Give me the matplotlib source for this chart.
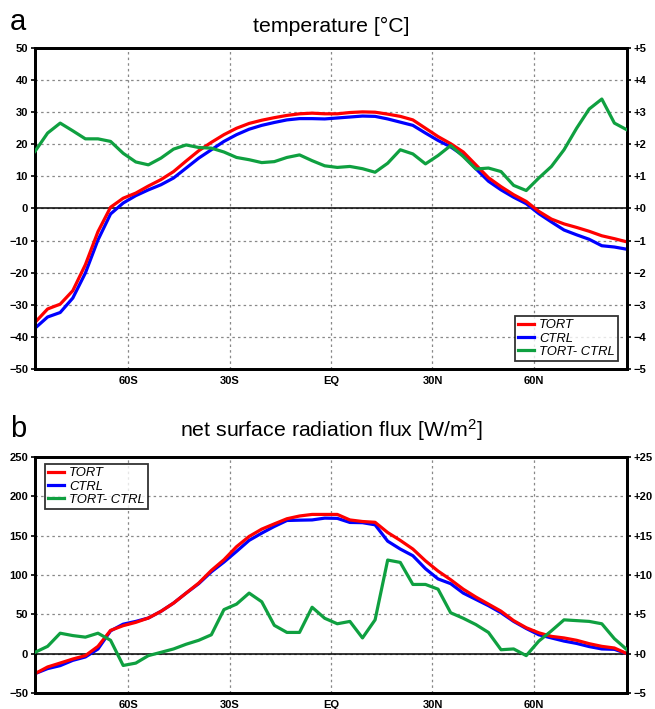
import numpy as np
import matplotlib
matplotlib.use("Agg")
import matplotlib.pyplot as plt
from matplotlib.lines import Line2D

plt.rcParams['font.family'] = ['Liberation Sans', 'DejaVu Sans']
plt.rcParams['mathtext.default'] = 'regular'

# latitude grid (48 points, south to north)
lat = np.linspace(-87.5, 87.5, 48)

# ---- panel a: temperature [°C] ----
temp_tort = [-35.5, -31.3, -29.8, -25.6, -17.5, -7.2, 0.4, 3.2, 4.8, 7.0, 9.0, 11.5,
             14.8, 18.0, 20.6, 23.0, 25.0, 26.5, 27.5, 28.3, 29.0, 29.5, 29.7, 29.5,
             29.5, 29.9, 30.1, 30.0, 29.4, 28.7, 27.6, 25.0, 22.4, 20.2, 17.6, 13.6,
             9.6, 6.8, 4.3, 2.2, -0.9, -3.3, -4.8, -5.9, -7.1, -8.5, -9.4, -10.4]
temp_ctrl = [-37.3, -33.8, -32.4, -27.9, -20.1, -9.8, -1.7, 1.7, 4.0, 5.8, 7.4, 9.5,
             12.6, 15.7, 18.3, 20.9, 23.0, 24.7, 25.9, 26.8, 27.6, 28.0, 28.0, 27.9,
             28.2, 28.5, 28.8, 28.7, 27.9, 26.9, 25.9, 23.5, 21.2, 19.2, 16.5, 12.4,
             8.5, 5.8, 3.5, 1.5, -1.6, -4.2, -6.7, -8.2, -9.6, -11.6, -12.0, -12.7]
temp_diff = [1.78, 2.35, 2.66, 2.42, 2.17, 2.17, 2.09, 1.72, 1.45, 1.36, 1.57, 1.85,
             1.98, 1.90, 1.88, 1.76, 1.59, 1.52, 1.43, 1.46, 1.59, 1.67, 1.49, 1.33,
             1.28, 1.31, 1.24, 1.13, 1.41, 1.83, 1.70, 1.39, 1.65, 1.96, 1.62, 1.23,
             1.26, 1.15, 0.72, 0.56, 0.95, 1.31, 1.83, 2.50, 3.10, 3.41, 2.66, 2.45]

# ---- panel b: net surface radiation flux [W/m2] ----
rad_tort = [-25.4, -16.9, -11.9, -6.8, -2.5, 9.3, 29.6, 35.6, 39.8, 45.3, 53.8, 64.3,
            77.0, 89.8, 105.8, 119.4, 136.0, 149.0, 158.3, 165.0, 171.5, 175.0, 177.0, 177.0,
            177.0, 170.0, 168.0, 167.0, 154.0, 144.0, 133.0, 118.0, 105.0, 94.0, 82.0, 72.0,
            63.0, 54.0, 42.0, 33.0, 26.5, 22.0, 20.0, 17.0, 12.7, 9.3, 7.2, 0.0]
rad_ctrl = [-25.4, -19.0, -15.2, -8.5, -4.2, 5.9, 29.0, 37.5, 41.0, 45.3, 53.8, 64.3,
            77.0, 89.0, 104.0, 116.4, 130.0, 144.0, 153.2, 161.7, 169.3, 169.7, 170.0, 172.3,
            172.0, 166.8, 166.5, 163.8, 143.0, 133.0, 124.5, 108.0, 95.0, 89.0, 77.0, 69.0,
            61.0, 52.0, 41.0, 32.0, 24.0, 20.0, 16.0, 13.0, 9.0, 6.0, 5.5, 0.0]
rad_diff = [0.17, 0.93, 2.6, 2.3, 2.1, 2.6, 1.7, -1.5, -1.2, -0.25, 0.17, 0.6,
            1.2, 1.7, 2.4, 5.6, 6.3, 7.7, 6.6, 3.6, 2.7, 2.7, 5.9, 4.5,
            3.8, 4.1, 2.0, 4.3, 11.9, 11.6, 8.8, 8.8, 8.2, 5.2, 4.5, 3.7,
            2.7, 0.5, 0.6, -0.25, 1.6, 2.9, 4.3, 4.2, 4.1, 3.8, 1.9, 0.5]

xticks = [-60, -30, 0, 30, 60]
xticklabels = ['60S', '30S', 'EQ', '30N', '60N']
series_labels = ['TORT', 'CTRL', 'TORT- CTRL']

RED = '#ff0000'
BLUE = '#0000ff'
GREEN = '#0fa040'

W, H = 655, 709
fig = plt.figure(figsize=(W / 100, H / 100), dpi=100)


def fmt_signed(v):
    v = int(round(v))
    if v > 0:
        return '+%d' % v
    if v == 0:
        return '+0'
    return '\u2212%d' % abs(v)


def make_panel(rect, left, right, diff, ylim, yticks, ylim2, yticks2, legend_kw):
    ax = fig.add_axes(rect)
    ax.set_xlim(lat[0], lat[-1])
    ax.set_ylim(*ylim)
    ax.set_xticks(xticks)
    ax.set_xticklabels(xticklabels)
    ax.set_yticks(yticks)
    ax.set_yticklabels([('\u2212%d' % -t) if t < 0 else '%d' % t for t in yticks])
    ax.grid(True, color='#888888', linestyle=(0, (2, 2.5)), linewidth=0.9)
    ax.axhline(0, color='black', linewidth=1.1, zorder=2)
    ax.plot(lat, left, color=RED, lw=2.3, zorder=4, solid_joinstyle='round')
    ax.plot(lat, right, color=BLUE, lw=2.3, zorder=3, solid_joinstyle='round')
    ax.tick_params(axis='x', length=0, pad=5, labelsize=8)
    ax.tick_params(axis='y', length=3, width=1.2, pad=2, labelsize=8, direction='out')
    for lbl in ax.get_xticklabels() + ax.get_yticklabels():
        lbl.set_fontweight('bold')
    for s in ax.spines.values():
        s.set_linewidth(2)

    ax2 = ax.twinx()
    ax2.set_ylim(*ylim2)
    ax2.set_yticks(yticks2)
    ax2.set_yticklabels([fmt_signed(t) for t in yticks2])
    ax2.plot(lat, diff, color=GREEN, lw=2.3, zorder=5, solid_joinstyle='round')
    ax2.tick_params(axis='y', length=3, width=1.2, pad=2, labelsize=8, direction='out')
    for lbl in ax2.get_yticklabels():
        lbl.set_fontweight('bold')
    for s in ax2.spines.values():
        s.set_linewidth(2)

    handles = [Line2D([], [], color=c, lw=2.3) for c in (RED, BLUE, GREEN)]
    leg = ax2.legend(handles, series_labels, prop={'style': 'italic', 'size': 9.4},
                     frameon=True, fancybox=False, edgecolor='black',
                     borderaxespad=0, handlelength=1.2, handletextpad=0.4,
                     labelspacing=0.08, borderpad=0.25, **legend_kw)
    leg.get_frame().set_linewidth(1.3)
    leg.set_zorder(10)
    return ax, ax2


# panel a
make_panel([35 / W, 1 - 369 / H, 592 / W, 321 / H],
           temp_tort, temp_ctrl, temp_diff,
           (-50, 50), list(range(-50, 51, 10)),
           (-5, 5), list(range(-5, 6, 1)),
           dict(loc='lower right', bbox_to_anchor=(0.985, 0.025)))

# panel b
make_panel([35 / W, 1 - 693 / H, 592 / W, 236 / H],
           rad_tort, rad_ctrl, rad_diff,
           (-50, 250), list(range(-50, 251, 50)),
           (-5, 25), list(range(-5, 26, 5)),
           dict(loc='upper left', bbox_to_anchor=(0.017, 0.97)))

fig.text(331 / W, 1 - 32 / H, 'temperature [°C]', ha='center', va='baseline', fontsize=15.3)
fig.text(10 / W, 1 - 30 / H, 'a', ha='left', va='baseline', fontsize=21)
fig.text(331 / W, 1 - 437 / H, 'net surface radiation flux [W/m$^2$]', ha='center',
         va='baseline', fontsize=15.3)
fig.text(10 / W, 1 - 437 / H, 'b', ha='left', va='baseline', fontsize=21)

fig.savefig('out.png', dpi=100)
